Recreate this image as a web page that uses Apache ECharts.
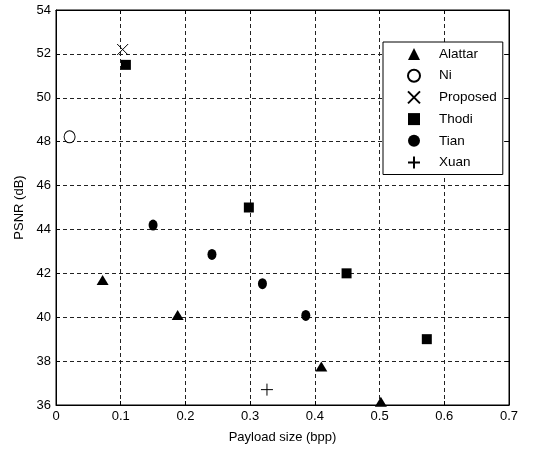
<!DOCTYPE html>
<html><head><meta charset="utf-8">
<script src="https://cdn.jsdelivr.net/npm/echarts@6/dist/echarts.min.js"></script>
<style>html,body{margin:0;padding:0;background:#fff}#c{width:535px;height:452px}</style>
</head><body><div id="c"></div>
<script>
const seriesNames = ['Alattar','Ni','Proposed','Thodi','Tian','Xuan'];
const alattar = [[0.072,41.7],[0.188,40.1],[0.41,37.76],[0.502,36.15]];
const ni = [[0.021,48.22]];
const proposed = [[0.103,52.2]];
const thodi = [[0.108,51.5],[0.298,45.0],[0.449,42.0],[0.573,39.0]];
const tian = [[0.15,44.2],[0.241,42.86],[0.319,41.53],[0.386,40.08]];
const xuan = [[0.326,36.7]];
const xTicks = [0,0.1,0.2,0.3,0.4,0.5,0.6,0.7];
const yTicks = [36,38,40,42,44,46,48,50,52,54];

const font = 'Liberation Sans, Arial, sans-serif';
const crossPath = 'path://M0,0L10,10M10,0L0,10';
const plusPath = 'path://M5,0L5,10M0,5L10,5';

const chart = echarts.init(document.getElementById('c'), null, {renderer:'canvas'});
const gridLine = {show:true, lineStyle:{color:'#222', width:1, type:[4,3]}};
const baseX = {type:'value', min:0, max:0.7, interval:0.1};
const baseY = {type:'value', min:36, max:54, interval:2};
chart.setOption({
  animation:false,
  backgroundColor:'#fff',
  grid:{left:56, right:26, top:10, bottom:47, show:true, borderColor:'#000', borderWidth:1, backgroundColor:'transparent'},
  legend:{
    orient:'vertical', left:383, top:42,
    data:seriesNames,
    backgroundColor:'#fff', borderColor:'#000', borderWidth:1,
    padding:[5,6,5,24], itemGap:7.7, itemWidth:12, itemHeight:12,
    textStyle:{fontFamily:font, fontSize:13.5, color:'#000', padding:[0,0,0,14]}
  },
  xAxis:[
    Object.assign({}, baseX, {
      position:'bottom',
      name:'Payload size (bpp)', nameLocation:'middle', nameGap:26,
      nameTextStyle:{fontFamily:font, fontSize:13, color:'#000'},
      axisLine:{show:true, onZero:false, lineStyle:{color:'#000'}},
      axisTick:{show:true, inside:true, length:4, lineStyle:{color:'#000'}},
      axisLabel:{fontFamily:font, fontSize:13, color:'#000', margin:5, formatter:v=>xTicks.includes(+v.toFixed(1))?String(+v.toFixed(1)):''},
      splitLine:gridLine
    }),
    Object.assign({}, baseX, {
      position:'top',
      axisLine:{show:true, onZero:false, lineStyle:{color:'#000'}},
      axisTick:{show:true, inside:true, length:4, lineStyle:{color:'#000'}},
      axisLabel:{show:false}, splitLine:{show:false}
    })
  ],
  yAxis:[
    Object.assign({}, baseY, {
      position:'left',
      name:'PSNR (dB)', nameLocation:'middle', nameGap:29, nameRotate:90,
      nameTextStyle:{fontFamily:font, fontSize:13, color:'#000'},
      axisLine:{show:true, onZero:false, lineStyle:{color:'#000'}},
      axisTick:{show:true, inside:true, length:4, lineStyle:{color:'#000'}},
      axisLabel:{fontFamily:font, fontSize:13, color:'#000', margin:5, formatter:v=>yTicks.includes(v)?String(v):''},
      splitLine:gridLine
    }),
    Object.assign({}, baseY, {
      position:'right',
      axisLine:{show:true, onZero:false, lineStyle:{color:'#000'}},
      axisTick:{show:true, inside:true, length:4, lineStyle:{color:'#000'}},
      axisLabel:{show:false}, splitLine:{show:false}
    })
  ],
  series:[
    {name:'Alattar', type:'scatter', data:alattar, symbol:'triangle', symbolSize:[12,10], itemStyle:{color:'#000', opacity:1}},
    {name:'Ni', type:'scatter', data:ni, symbol:'circle', symbolSize:[11,12], itemStyle:{color:'#fff', borderColor:'#000', borderWidth:1, opacity:1}},
    {name:'Proposed', type:'scatter', data:proposed, symbol:crossPath, symbolSize:11, itemStyle:{color:'#000', borderColor:'#000', borderWidth:1, opacity:1}},
    {name:'Thodi', type:'scatter', data:thodi, symbol:'rect', symbolSize:10, itemStyle:{color:'#000', opacity:1}},
    {name:'Tian', type:'scatter', data:tian, symbol:'circle', symbolSize:[9,11], itemStyle:{color:'#000', opacity:1}},
    {name:'Xuan', type:'scatter', data:xuan, symbol:plusPath, symbolSize:12, itemStyle:{color:'#000', borderColor:'#000', borderWidth:1, opacity:1}}
  ]
});
</script></body></html>
